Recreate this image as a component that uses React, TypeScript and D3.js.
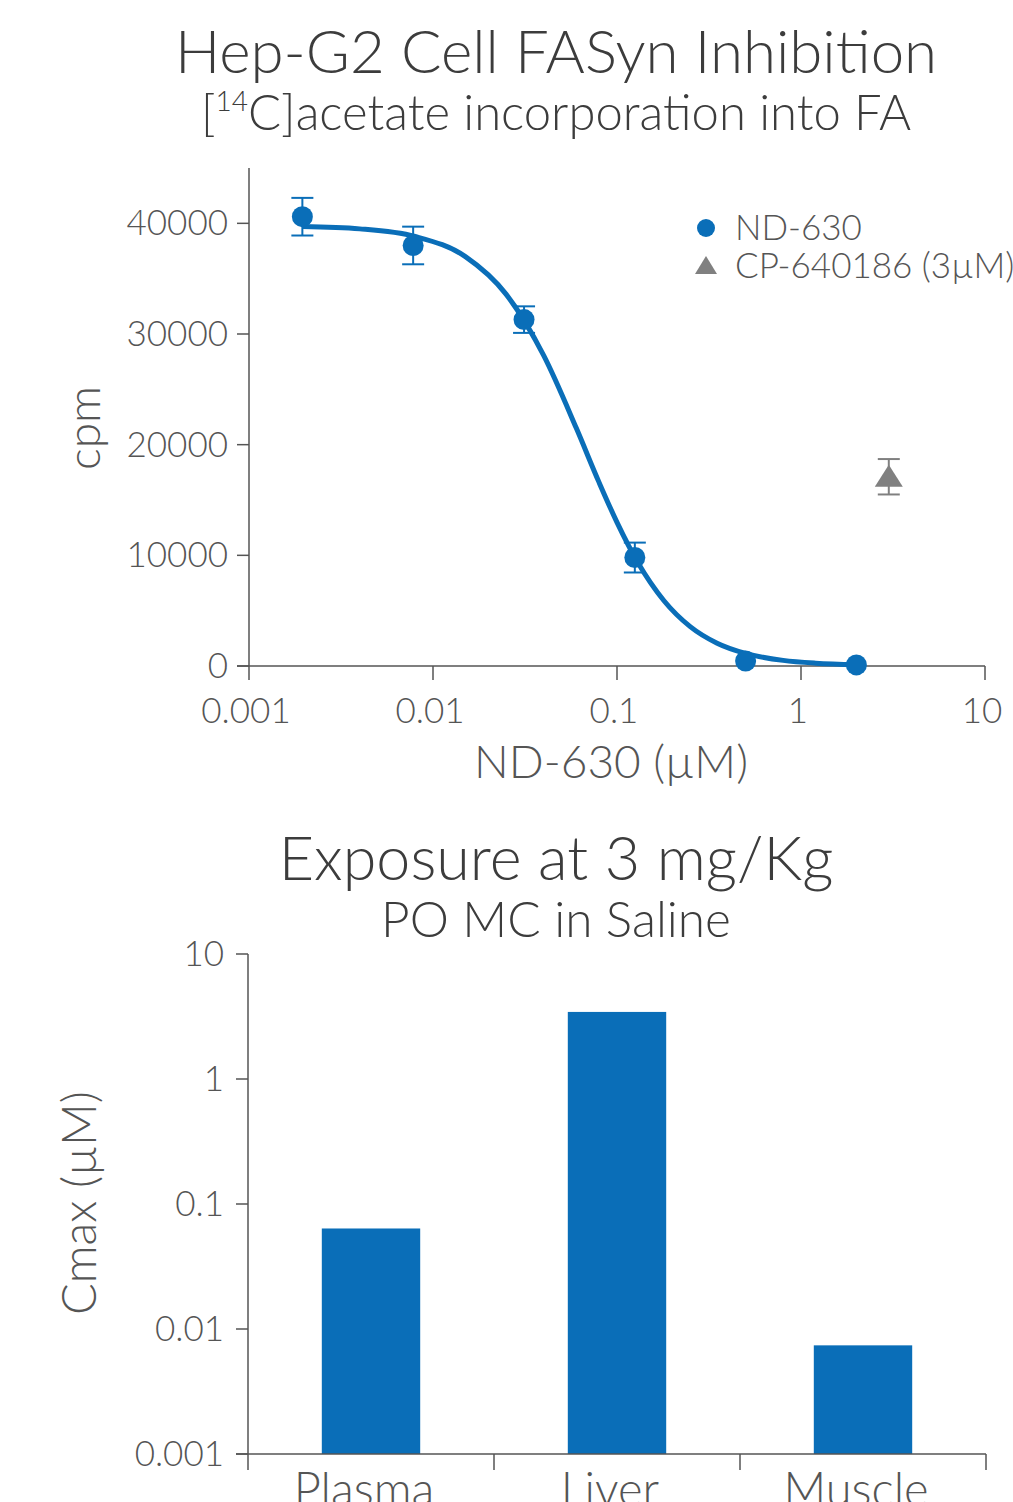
import React from "react";
import * as d3 from "d3";

// ---------- Top chart data ----------
const nd630Conc = [0.00195, 0.0078, 0.03125, 0.125, 0.5, 2];
const nd630Cpm = [40600, 38000, 31300, 9800, 450, 100];
const nd630Err = [1700, 1700, 1200, 1350, 0, 0];

const cpConc = [3];
const cpCpm = [17100];
const cpErr = [1600];

// fitted curve
const fitConc = [0.00195, 0.004, 0.008, 0.015, 0.025, 0.04, 0.06, 0.08, 0.1, 0.13, 0.18, 0.25, 0.35, 0.5, 0.8, 1.2, 2];
const fitCpm = [39710, 39500, 38810, 36990, 33580, 28040, 21520, 16570, 12980, 9330, 5900, 3560, 2060, 1135, 509, 253, 104];

const topYTicks = [0, 10000, 20000, 30000, 40000];
const topXTicks = [0.001, 0.01, 0.1, 1, 10];
const topXTickLabels = ["0.001", "0.01", "0.1", "1", "10"];

// ---------- Bottom chart data ----------
const tissues = ["Plasma", "Liver", "Muscle"];
const cmax = [0.0637, 3.44, 0.0074];
const bottomYTicks = [0.001, 0.01, 0.1, 1, 10];
const bottomYTickLabels = ["0.001", "0.01", "0.1", "1", "10"];

const BLUE = "#0a6eb8";
const GREY = "#808080";
const AXIS = "#555555";
const TEXT = "#555555";
const TITLE = "#3c3c3c";
const FONT = "Lato, 'Open Sans', sans-serif";
const W = 300;

export default function App() {
  // top scales
  const x = d3.scaleLog().domain([0.001, 10]).range([249, 985]);
  const y = d3.scaleLinear().domain([0, 45000]).range([666, 168]);

  const line = d3
    .line<number>()
    .x((_, i) => x(fitConc[i]))
    .y((d) => y(d))
    .curve(d3.curveMonotoneX);

  // bottom scales
  const band = d3.scaleBand<string>().domain(tissues).range([248, 986]).paddingInner(0).paddingOuter(0);
  const yb = d3.scaleLog().domain([0.001, 10]).range([1454, 954]);
  const barW = band.bandwidth() * 0.4;

  const capW = 11;

  return (
    <svg
      width={1013}
      height={1502}
      style={{ position: "absolute", left: 0, top: 0, background: "#fff" }}
      fontFamily={FONT}
      fontWeight={W}
    >
      {/* ---------- TOP TITLES ---------- */}
      <text x={556} y={73} textAnchor="middle" fontSize={60} fill={TITLE}>
        Hep-G2 Cell FASyn Inhibition
      </text>
      <text x={556} y={130} textAnchor="middle" fontSize={49} fill={TITLE}>
        [<tspan fontSize={28} dy={-19}>14</tspan>
        <tspan dy={19}>C]acetate incorporation into FA</tspan>
      </text>

      {/* ---------- TOP AXES ---------- */}
      <line x1={249} x2={249} y1={168} y2={666} stroke={AXIS} strokeWidth={1.5} />
      <line x1={237} x2={985} y1={666} y2={666} stroke={AXIS} strokeWidth={1.5} />
      {topYTicks.map((t) => (
        <g key={"yt" + t}>
          <line x1={237} x2={249} y1={y(t)} y2={y(t)} stroke={AXIS} strokeWidth={1.5} />
          <text x={228} y={y(t) + 12} textAnchor="end" fontSize={35} fill={TEXT}>
            {t}
          </text>
        </g>
      ))}
      {topXTicks.map((t, i) => (
        <g key={"xt" + t}>
          <line x1={x(t)} x2={x(t)} y1={666} y2={680} stroke={AXIS} strokeWidth={1.5} />
          <text x={x(t) - 3} y={723} textAnchor="middle" fontSize={35} fill={TEXT}>
            {topXTickLabels[i]}
          </text>
        </g>
      ))}
      <text x={611} y={778} textAnchor="middle" fontSize={46} fill={TEXT}>
        ND-630 (µM)
      </text>
      <text
        transform={`translate(100, 428) rotate(-90)`}
        textAnchor="middle"
        fontSize={46}
        fill={TEXT}
      >
        cpm
      </text>

      {/* ---------- TOP DATA ---------- */}
      <path d={line(fitCpm) || ""} fill="none" stroke={BLUE} strokeWidth={5} />
      {nd630Conc.map((c, i) => (
        <g key={"nd" + i}>
          {nd630Err[i] > 0 && (
            <g stroke={BLUE} strokeWidth={2}>
              <line x1={x(c)} x2={x(c)} y1={y(nd630Cpm[i] + nd630Err[i])} y2={y(nd630Cpm[i] - nd630Err[i])} />
              <line x1={x(c) - capW} x2={x(c) + capW} y1={y(nd630Cpm[i] + nd630Err[i])} y2={y(nd630Cpm[i] + nd630Err[i])} />
              <line x1={x(c) - capW} x2={x(c) + capW} y1={y(nd630Cpm[i] - nd630Err[i])} y2={y(nd630Cpm[i] - nd630Err[i])} />
            </g>
          )}
          <circle cx={x(c)} cy={y(nd630Cpm[i])} r={10.5} fill={BLUE} />
        </g>
      ))}
      {cpConc.map((c, i) => {
        const cx = x(c);
        const cy = y(cpCpm[i]);
        return (
          <g key={"cp" + i}>
            <g stroke={GREY} strokeWidth={2}>
              <line x1={cx} x2={cx} y1={y(cpCpm[i] + cpErr[i])} y2={y(cpCpm[i] - cpErr[i])} />
              <line x1={cx - capW} x2={cx + capW} y1={y(cpCpm[i] + cpErr[i])} y2={y(cpCpm[i] + cpErr[i])} />
              <line x1={cx - capW} x2={cx + capW} y1={y(cpCpm[i] - cpErr[i])} y2={y(cpCpm[i] - cpErr[i])} />
            </g>
            <path d={`M${cx},${cy - 12} L${cx + 14},${cy + 10} L${cx - 14},${cy + 10} Z`} fill={GREY} />
          </g>
        );
      })}

      {/* ---------- LEGEND ---------- */}
      <circle cx={706} cy={228} r={9} fill={BLUE} />
      <text x={735} y={240} fontSize={35} fill={TEXT}>
        ND-630
      </text>
      <path d="M706,256 L717,274 L695,274 Z" fill={GREY} />
      <text x={735} y={278} fontSize={35} fill={TEXT}>
        CP-640186 (3µM)
      </text>

      {/* ---------- BOTTOM TITLES ---------- */}
      <text x={556} y={880} textAnchor="middle" fontSize={61} fill={TITLE}>
        Exposure at 3 mg/Kg
      </text>
      <text x={556} y={937} textAnchor="middle" fontSize={49.5} fill={TITLE}>
        PO MC in Saline
      </text>

      {/* ---------- BOTTOM BARS ---------- */}
      {tissues.map((t, i) => {
        const bx = (band(t) as number) + band.bandwidth() / 2 - barW / 2;
        return (
          <rect key={t} x={bx} y={yb(cmax[i])} width={barW} height={1454 - yb(cmax[i])} fill={BLUE} />
        );
      })}

      {/* ---------- BOTTOM AXES ---------- */}
      <line x1={248} x2={248} y1={954} y2={1470} stroke={AXIS} strokeWidth={1.5} />
      <line x1={236} x2={986} y1={1454} y2={1454} stroke={AXIS} strokeWidth={1.5} />
      {bottomYTicks.map((t, i) => (
        <g key={"byt" + t}>
          <line x1={236} x2={248} y1={yb(t)} y2={yb(t)} stroke={AXIS} strokeWidth={1.5} />
          <text x={224} y={yb(t) + 12} textAnchor="end" fontSize={35} fill={TEXT}>
            {bottomYTickLabels[i]}
          </text>
        </g>
      ))}
      {tissues.map((t) => (
        <line
          key={"bxt" + t}
          x1={(band(t) as number) + band.bandwidth()}
          x2={(band(t) as number) + band.bandwidth()}
          y1={1454}
          y2={1470}
          stroke={AXIS}
          strokeWidth={1.5}
        />
      ))}
      {tissues.map((t) => (
        <text
          key={"bxl" + t}
          x={(band(t) as number) + band.bandwidth() / 2 - 7}
          y={1506}
          textAnchor="middle"
          fontSize={47}
          fill={TEXT}
        >
          {t}
        </text>
      ))}
      <text
        transform={`translate(96, 1203) rotate(-90)`}
        textAnchor="middle"
        fontSize={47}
        fill={TEXT}
      >
        Cmax (µM)
      </text>
    </svg>
  );
}
